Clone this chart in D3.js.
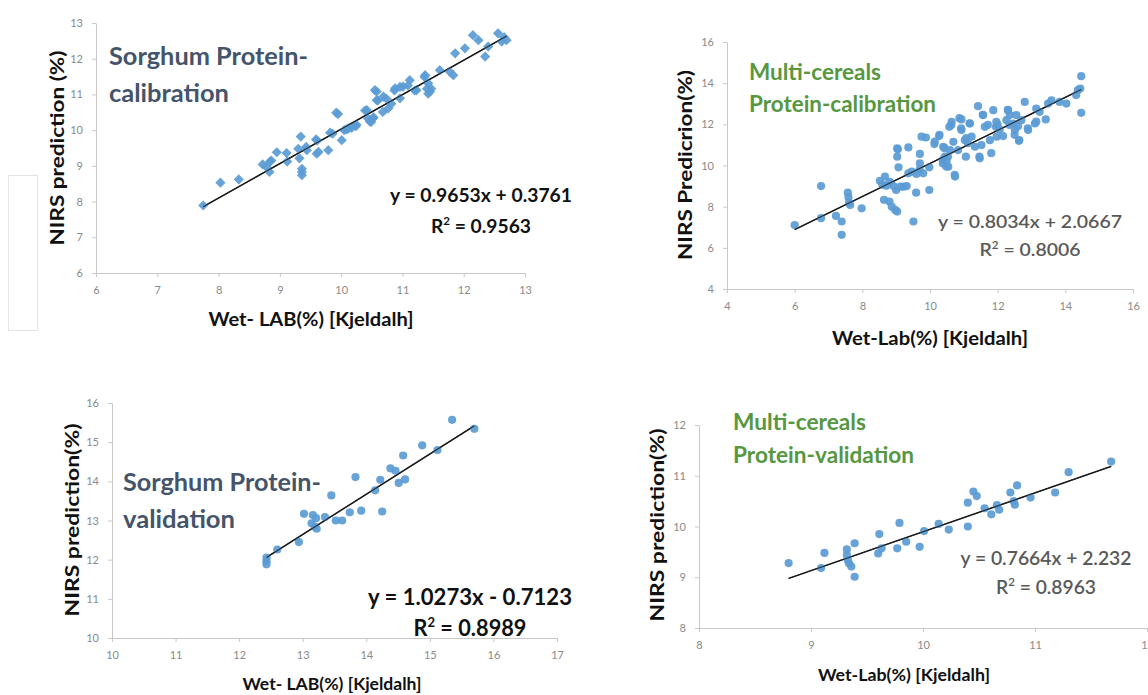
<!DOCTYPE html>
<html>
<head>
<meta charset="utf-8">
<script src="https://cdn.jsdelivr.net/npm/d3@7"></script>
<style>
  body { margin: 0; background: #fff; }
  svg { display: block; font-family: Lato, "Open Sans", sans-serif; }
</style>
</head>
<body>
<svg id="chart" width="1148" height="695"></svg>
<script>
// === Data: [wet-lab %, NIRS %] ===
const sorghumCal = [
  [7.75,7.89],[8.03,8.53],[8.33,8.62],[8.72,9.04],[8.78,8.97],[8.84,9.12],[8.83,8.83],[8.86,9.15],
  [8.95,9.38],[9.11,9.36],[9.12,9.12],[9.34,9.82],[9.30,9.48],[9.32,9.21],[9.36,8.83],[9.36,8.74],
  [9.36,8.92],[9.44,9.44],[9.43,9.53],[9.59,9.74],[9.61,9.71],[9.63,9.39],[9.60,9.34],[9.79,9.44],
  [9.82,9.93],[9.86,9.90],[9.92,10.49],[9.95,10.45],[10.01,9.72],[10.05,10.00],[10.09,10.02],
  [10.12,10.05],[10.17,10.06],[10.24,10.11],[10.25,10.15],[10.39,10.55],[10.42,10.56],[10.44,10.32],
  [10.47,10.24],[10.49,10.23],[10.52,10.33],[10.53,10.36],[10.55,11.12],[10.58,11.08],[10.58,10.84],
  [10.60,10.83],[10.68,10.51],[10.69,10.94],[10.74,10.88],[10.77,10.61],[10.82,10.74],[10.88,11.17],
  [10.87,11.11],[10.96,10.89],[10.96,11.21],[11.01,11.22],[11.09,11.25],[11.12,11.40],[11.20,11.11],
  [11.23,11.12],[11.37,11.54],[11.36,11.49],[11.40,11.16],[11.42,11.31],[11.45,11.08],[11.42,11.02],
  [11.47,11.16],[11.61,11.68],[11.77,11.64],[11.83,11.54],[11.86,12.15],[12.02,12.29],[12.15,12.66],
  [12.24,12.52],[12.35,12.06],[12.40,12.34],[12.56,12.71],[12.62,12.48],[12.70,12.52],[12.66,12.60]
];
const cerealCal = [
  [6.00,7.11],[6.78,9.00],[6.78,7.44],[7.22,7.55],[7.39,7.28],[7.39,6.63],[7.57,8.68],[7.59,8.46],
  [7.61,8.20],[7.64,8.08],[7.98,7.92],[8.52,9.26],[8.67,9.46],[8.59,9.06],[8.71,9.02],[8.81,9.20],
  [8.64,8.33],[8.80,8.25],[8.87,8.00],[8.97,7.84],[9.03,7.76],[9.03,10.83],[9.03,10.43],[9.07,9.91],
  [8.92,9.00],[9.00,8.81],[9.13,8.97],[9.22,8.97],[9.31,9.00],[9.36,10.88],[9.36,9.62],[9.46,9.70],
  [9.51,7.28],[9.59,8.68],[9.60,9.59],[9.69,9.79],[9.75,11.40],[9.88,11.36],[9.70,10.56],[9.70,10.10],
  [9.80,9.62],[9.98,9.91],[9.98,8.81],[10.13,11.04],[10.14,11.16],[10.27,11.43],[10.28,11.49],
  [10.38,10.27],[10.38,10.10],[10.39,10.91],[10.43,10.84],[10.44,10.43],[10.48,9.95],[10.49,10.18],
  [10.53,10.43],[10.54,9.94],[10.59,10.75],[10.57,11.88],[10.63,11.97],[10.64,12.12],[10.69,11.15],
  [10.73,9.54],[10.74,9.46],[10.83,10.75],[10.87,12.30],[10.92,11.81],[10.93,12.24],[10.93,11.72],
  [11.03,11.23],[11.06,10.43],[11.07,11.33],[11.12,11.08],[11.17,12.05],[11.18,12.04],[11.23,11.40],
  [11.33,10.91],[11.42,12.88],[11.46,10.43],[11.47,10.35],[11.52,10.99],[11.56,12.46],[11.57,12.45],
  [11.62,11.88],[11.71,11.97],[11.77,11.23],[11.81,10.60],[11.87,12.69],[11.95,11.88],[11.97,11.40],
  [11.96,12.12],[12.00,11.97],[12.06,11.75],[12.16,11.43],[12.26,12.20],[12.30,12.70],[12.31,12.69],
  [12.35,11.97],[12.36,12.45],[12.46,12.04],[12.50,11.49],[12.51,11.72],[12.55,12.45],[12.60,11.91],
  [12.63,11.20],[12.64,11.24],[12.70,12.20],[12.80,13.09],[12.89,11.81],[12.90,11.72],[13.10,12.04],
  [13.14,12.13],[13.14,12.77],[13.24,12.61],[13.42,12.24],[13.49,13.01],[13.59,13.17],[13.83,13.09],
  [14.03,13.01],[14.32,13.42],[14.37,13.66],[14.44,13.74],[14.47,14.34],[14.47,12.56],[9.05,10.79]
];
const sorghumVal = [
  [12.43,12.05],[12.43,11.96],[12.43,11.88],[12.60,12.26],[12.94,12.45],[13.02,13.17],[13.16,13.14],
  [13.21,13.06],[13.14,12.93],[13.19,12.84],[13.22,12.79],[13.35,13.09],[13.45,13.64],[13.52,13.00],
  [13.62,13.00],[13.74,13.21],[13.83,14.11],[13.92,13.25],[14.14,13.77],[14.22,14.04],[14.25,13.23],
  [14.38,14.33],[14.46,14.27],[14.51,13.96],[14.61,14.05],[14.58,14.66],[14.88,14.92],[15.12,14.80],
  [15.35,15.57],[15.70,15.34]
];
const cerealVal = [
  [8.80,9.28],[9.09,9.18],[9.12,9.48],[9.32,9.55],[9.32,9.44],[9.33,9.33],[9.34,9.27],[9.36,9.21],
  [9.39,9.67],[9.39,9.01],[9.61,9.85],[9.60,9.47],[9.63,9.57],[9.77,9.57],[9.79,10.07],[9.85,9.70],
  [9.97,9.60],[10.01,9.91],[10.14,10.05],[10.23,9.94],[10.40,10.00],[10.40,10.47],[10.45,10.69],
  [10.48,10.60],[10.55,10.36],[10.61,10.24],[10.66,10.42],[10.68,10.33],[10.78,10.67],[10.81,10.50],
  [10.82,10.43],[10.84,10.81],[10.96,10.57],[11.18,10.67],[11.30,11.07],[11.68,11.28]
];

// trendline coefficients [slope, intercept] and the printed equation labels
const trendCoef = [[0.9653, 0.3761], [0.8034, 2.0667], [1.0273, -0.7123], [0.7664, 2.232]];
const eqLabels = ["y = 0.9653x + 0.3761", "y = 0.8034x + 2.0667", "y = 1.0273x - 0.7123", "y = 0.7664x + 2.232"];
const r2Labels = ["0.9563", "0.8006", "0.8989", "0.8963"];
const titleLines = [
  ["Sorghum Protein-", "calibration"],
  ["Multi-cereals", "Protein-calibration"],
  ["Sorghum Protein-", "validation"],
  ["Multi-cereals", "Protein-validation"]
];
const yTitles = ["NIRS prediction (%)", "NIRS Predicrion(%)", "NIRS prediction(%)", "NIRS prediction(%)"];
const xTitles = ["Wet- LAB(%) [Kjeldalh]", "Wet-Lab(%) [Kjeldalh]", "Wet- LAB(%) [Kjeldalh]", "Wet-Lab(%) [Kjeldalh]"];
const xTickVals = [d3.range(6, 14, 1), d3.range(4, 17, 2), d3.range(10, 18, 1), d3.range(8, 13, 1)];
const yTickVals = [d3.range(6, 14, 1), d3.range(4, 17, 2), d3.range(10, 17, 1), d3.range(8, 13, 1)];

const BLUE = "#5B9BD5";
const SLATE = "#44546A";
const GREEN = "#56973F";
const GREY_TXT = "#595959";

// === Layout of each panel (pixel positions and text widths) ===
const layout = [
  { data: sorghumCal, xr: [96, 525], yr: [273, 23], marker: "diamond",
    title: { x: 109, y: 57, gap: 37, size: 24, color: SLATE, len: [199, 120] },
    eq: { x: 481, y: 195, size: 19, color: "#111", weight: 700, gap: 31, len: [182, 100] },
    yt: { x: 57, y: 148, size: 19, len: 195 }, xt: { x: 311, y: 319, size: 19, len: 205 } },
  { data: cerealCal, xr: [727, 1133], yr: [289, 42], marker: "circle",
    title: { x: 749, y: 72, gap: 32, size: 22, color: GREEN, len: [132, 187] },
    eq: { x: 1030, y: 222, size: 18, color: GREY_TXT, weight: 600, gap: 28, len: [184, 101] },
    yt: { x: 685, y: 165, size: 19, len: 190 }, xt: { x: 930, y: 338, size: 19, len: 196 } },
  { data: sorghumVal, xr: [112, 557], yr: [638, 403], marker: "circle",
    title: { x: 123, y: 483, gap: 37, size: 24, color: SLATE, len: [198, 112] },
    eq: { x: 470, y: 597, size: 22, color: "#111", weight: 700, gap: 31, len: [204, 113] },
    yt: { x: 72, y: 520, size: 19, len: 193 }, xt: { x: 332, y: 684, size: 17, len: 179 } },
  { data: cerealVal, xr: [699, 1147], yr: [628, 425], marker: "circle",
    title: { x: 733, y: 422, gap: 33, size: 22, color: GREEN, len: [133, 181] },
    eq: { x: 1046, y: 558, size: 19, color: GREY_TXT, weight: 600, gap: 29, len: [171, 100] },
    yt: { x: 657, y: 525, size: 19, len: 193 }, xt: { x: 904, y: 675, size: 17, len: 172 } }
];

const svg = d3.select("#chart");

// faint empty box on the left edge of the original figure
svg.append("rect")
  .attr("x", 8.5).attr("y", 175.5).attr("width", 29).attr("height", 155)
  .attr("fill", "none").attr("stroke", "#e3e3e3");

layout.forEach((p, i) => {
  const xt = xTickVals[i], yt = yTickVals[i];
  const x = d3.scaleLinear().domain([xt[0], xt[xt.length - 1]]).range(p.xr);
  const y = d3.scaleLinear().domain([yt[0], yt[yt.length - 1]]).range(p.yr);
  const g = svg.append("g");

  // axes
  const fmt = d3.format("d");
  const xAxis = g.append("g")
    .attr("transform", `translate(0,${p.yr[0]})`)
    .call(d3.axisBottom(x).tickValues(xt).tickFormat(fmt).tickSize(4).tickPadding(9).tickSizeOuter(0));
  const yAxis = g.append("g")
    .attr("transform", `translate(${p.xr[0]},0)`)
    .call(d3.axisLeft(y).tickValues(yt).tickFormat(fmt).tickSize(4).tickPadding(9).tickSizeOuter(0));
  [xAxis, yAxis].forEach(a => {
    a.select(".domain").attr("stroke", "#c8c8c8");
    a.selectAll(".tick line").attr("stroke", "#c8c8c8");
    a.selectAll(".tick text")
      .attr("fill", "#8a8a8a")
      .style("font-size", "11px")
      .style("font-family", "Lato, sans-serif");
  });

  // trendline across the data range
  const [m, b] = trendCoef[i];
  const ext = d3.extent(p.data, d => d[0]);
  const trend = sel => sel
    .attr("x1", x(ext[0])).attr("y1", y(m * ext[0] + b))
    .attr("x2", x(ext[1])).attr("y2", y(m * ext[1] + b))
    .attr("stroke", "#1a1a1a");
  g.append("line").call(trend).attr("stroke-width", 1.4);

  // points
  if (p.marker === "diamond") {
    g.selectAll("path.pt").data(p.data).join("path")
      .attr("class", "pt")
      .attr("d", d3.symbol(d3.symbolDiamond2, 66))
      .attr("transform", d => `translate(${x(d[0])},${y(d[1])})`)
      .attr("fill", BLUE).attr("opacity", 0.92);
  } else {
    g.selectAll("circle").data(p.data).join("circle")
      .attr("cx", d => x(d[0])).attr("cy", d => y(d[1]))
      .attr("r", 4.1)
      .attr("fill", BLUE).attr("opacity", 0.92);
  }

  // trendline back on top where it crosses the markers
  g.append("line").call(trend).attr("stroke-width", 1.2).attr("opacity", 0.8);

  // panel title (two lines)
  titleLines[i].forEach((t, k) => {
    g.append("text")
      .attr("x", p.title.x).attr("y", p.title.y + k * p.title.gap)
      .attr("dy", "0.35em")
      .attr("fill", p.title.color)
      .attr("textLength", p.title.len[k]).attr("lengthAdjust", "spacingAndGlyphs")
      .style("font-size", p.title.size + "px").style("font-weight", 700)
      .text(t);
  });

  // regression equation and R²
  g.append("text")
    .attr("x", p.eq.x).attr("y", p.eq.y).attr("dy", "0.35em")
    .attr("text-anchor", "middle").attr("fill", p.eq.color)
    .attr("textLength", p.eq.len[0]).attr("lengthAdjust", "spacingAndGlyphs")
    .style("font-size", p.eq.size + "px").style("font-weight", p.eq.weight)
    .text(eqLabels[i]);
  const lift = Math.round(p.eq.size * 0.4);
  const r2 = g.append("text")
    .attr("x", p.eq.x).attr("y", p.eq.y + p.eq.gap + p.eq.size * 0.35)
    .attr("text-anchor", "middle").attr("fill", p.eq.color)
    .attr("textLength", p.eq.len[1]).attr("lengthAdjust", "spacingAndGlyphs")
    .style("font-size", p.eq.size + "px").style("font-weight", p.eq.weight);
  r2.append("tspan").text("R");
  r2.append("tspan").attr("dy", -lift).style("font-size", (p.eq.size * 0.6) + "px").text("2");
  r2.append("tspan").attr("dy", lift).text(" = " + r2Labels[i]);

  // axis titles
  g.append("text")
    .attr("transform", `translate(${p.yt.x},${p.yt.y}) rotate(-90)`)
    .attr("text-anchor", "middle").attr("dy", "0.35em")
    .attr("fill", "#111")
    .attr("textLength", p.yt.len).attr("lengthAdjust", "spacingAndGlyphs")
    .style("font-size", p.yt.size + "px").style("font-weight", 700)
    .text(yTitles[i]);
  g.append("text")
    .attr("x", p.xt.x).attr("y", p.xt.y).attr("dy", "0.35em")
    .attr("text-anchor", "middle").attr("fill", "#111")
    .attr("textLength", p.xt.len).attr("lengthAdjust", "spacingAndGlyphs")
    .style("font-size", p.xt.size + "px").style("font-weight", 700)
    .text(xTitles[i]);
});
</script>
</body>
</html>
